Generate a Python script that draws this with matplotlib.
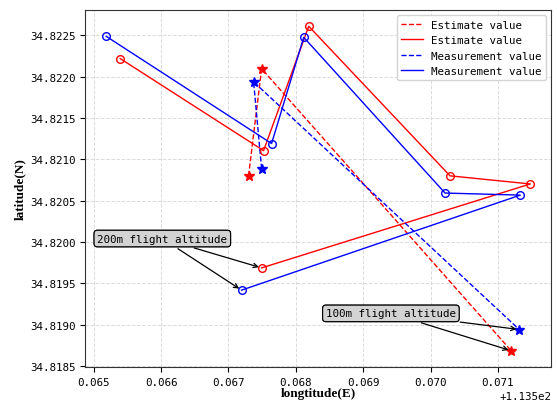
import matplotlib
matplotlib.use('Agg')
import matplotlib.pyplot as plt
from matplotlib.ticker import ScalarFormatter

# flight track, estimated vs measured positions
est_lon = [113.565394, 113.567522, 113.568192, 113.570290, 113.571481, 113.567493]
est_lat = [34.822219, 34.821106, 34.822610, 34.820801, 34.820703, 34.819688]
meas_lon = [113.565186, 113.567641, 113.568118, 113.570216, 113.571332, 113.567195]
meas_lat = [34.822488, 34.821192, 34.822476, 34.820593, 34.820568, 34.819419]

# low altitude passes (stars)
est_lon_low = [113.567299, 113.567493, 113.571198]
est_lat_low = [34.820801, 34.822097, 34.818686]
meas_lon_low = [113.567493, 113.567374, 113.571317]
meas_lat_low = [34.820886, 34.821938, 34.818943]

plt.rcParams['font.family'] = ['DejaVu Sans Mono']
plt.rcParams['font.size'] = 7.8

fig = plt.figure(figsize=(5.57, 4.02), dpi=100)
ax = fig.add_axes([0.1526, 0.0846, 0.8375, 0.888])

# lines (legend entries)
ax.plot(est_lon_low, est_lat_low, 'r--', lw=1.0, label='Estimate value')
ax.plot(est_lon, est_lat, 'r-', lw=1.0, label='Estimate value')
ax.plot(meas_lon_low, meas_lat_low, 'b--', lw=1.0, label='Measurement value')
ax.plot(meas_lon, meas_lat, 'b-', lw=1.0, label='Measurement value')

# markers
ax.plot(est_lon, est_lat, 'o', mfc='none', mec='red', ms=5.5, mew=1.0)
ax.plot(meas_lon, meas_lat, 'o', mfc='none', mec='blue', ms=5.5, mew=1.0)
ax.plot(est_lon_low, est_lat_low, '*', color='red', ms=7)
ax.plot(meas_lon_low, meas_lat_low, '*', color='blue', ms=7)

# annotations
box = dict(boxstyle='round,pad=0.3', fc='lightgray', ec='black', lw=0.8)
arrow = dict(arrowstyle='->', color='black', lw=0.9)
for xy in [(est_lon[-1], est_lat[-1]), (meas_lon[-1], meas_lat[-1])]:
    ax.annotate('200m flight altitude', xy=xy, xytext=(113.566019, 34.820043),
                ha='center', va='center', bbox=box, arrowprops=arrow)
for xy in [(meas_lon_low[-1], meas_lat_low[-1]), (est_lon_low[-1], est_lat_low[-1])]:
    ax.annotate('100m flight altitude', xy=xy, xytext=(113.569412, 34.819138),
                ha='center', va='center', bbox=box, arrowprops=arrow)

# axis formatting
ax.xaxis.set_major_formatter(ScalarFormatter(useOffset=113.5))
ax.yaxis.set_major_formatter(ScalarFormatter(useOffset=False))

ax.set_xlabel('longtitude(E)', family='Liberation Serif', fontweight='bold', fontsize=9.5, labelpad=0)
ax.set_ylabel('latitude(N)', family='Liberation Serif', fontweight='bold', fontsize=9.5, labelpad=3)

ax.grid(True, linestyle='--', color='lightgray', lw=0.7, alpha=0.8)
ax.set_axisbelow(True)

for sp in ax.spines.values():
    sp.set_color('#333333')

leg = ax.legend(loc='upper right', fancybox=True, framealpha=1.0, edgecolor='lightgray')

fig.savefig('out.png', dpi=100)
